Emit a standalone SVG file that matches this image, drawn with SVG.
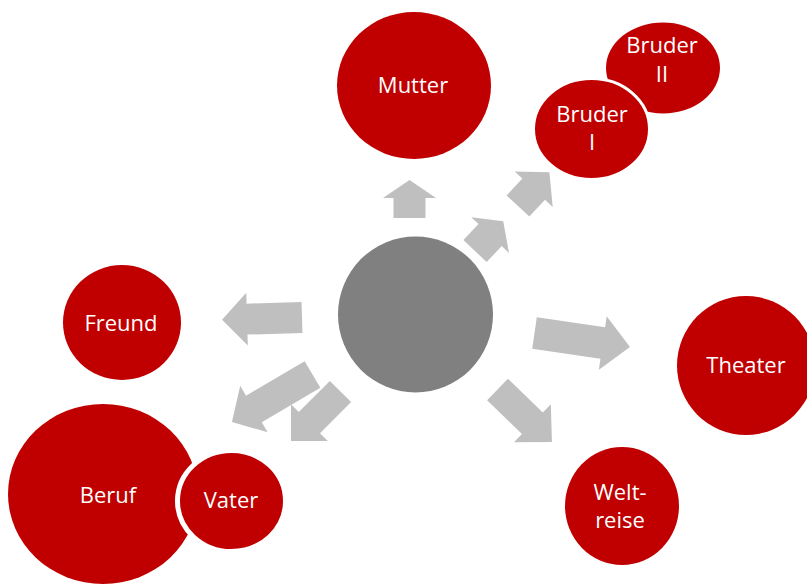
<svg xmlns="http://www.w3.org/2000/svg" width="807" height="585" viewBox="0 0 807 585">
<style>
.n{fill:#C00000}
.w{stroke:#FFFFFF}
.t{fill:#FFFFFF;font-family:"Open Sans","Noto Sans",sans-serif;font-size:22px;text-anchor:middle}
.a{fill:#BFBFBF}
</style>
<rect width="807" height="585" fill="#FFFFFF"/>
<g id="connectors">
<polygon class="a" transform="translate(409.5,218) rotate(-90)" points="0,-16 20,-16 20,-26.5 38,0 20,26.5 20,16 0,16"/>
<polygon class="a" transform="translate(475,251) rotate(-46.5)" points="0,-16 22,-16 22,-26 41,0 22,26 22,16 0,16"/>
<polygon class="a" transform="translate(518,206) rotate(-47)" points="0,-15.5 23,-15.5 23,-26 46,0 23,26 23,15.5 0,15.5"/>
<polygon class="a" transform="translate(302,317.5) rotate(178.3)" points="0,-15.5 55,-15.5 55,-26.5 80,0 55,26.5 55,15.5 0,15.5"/>
<polygon class="a" transform="translate(312.5,374.5) rotate(149.5)" points="0,-15.5 68,-15.5 68,-27 93.5,0 68,27 68,15.5 0,15.5"/>
<polygon class="a" transform="translate(340.5,391.5) rotate(135)" points="0,-15 44,-15 44,-26 70,0 44,26 44,15 0,15"/>
<polygon class="a" transform="translate(534.5,333) rotate(8.3)" points="0,-16 69,-16 69,-27 96.5,0 69,27 69,16 0,16"/>
<polygon class="a" transform="translate(497.5,389.5) rotate(44)" points="0,-15 48.5,-15 48.5,-26.5 75.7,0 48.5,26.5 48.5,15 0,15"/>
</g>
<g id="center"><ellipse cx="415.5" cy="314.5" rx="77.5" ry="78" fill="#808080"/></g>
<g id="mutter"><ellipse class="n" cx="414" cy="85.5" rx="77" ry="73.5"/><text class="t" x="413" y="93">Mutter</text></g>
<g id="bruder2"><ellipse class="n" cx="663" cy="68" rx="57" ry="45.5"/><text class="t" x="662" y="53">Bruder</text><text class="t" x="662" y="82">II</text></g>
<g id="bruder1"><ellipse class="n w" stroke-width="3" cx="591.5" cy="129" rx="58" ry="50.5"/><text class="t" x="592" y="122">Bruder</text><text class="t" x="592" y="150">I</text></g>
<g id="freund"><ellipse class="n" cx="122" cy="322.5" rx="59" ry="57.5"/><text class="t" x="121" y="331">Freund</text></g>
<g id="theater"><ellipse class="n" cx="746" cy="365.5" rx="69" ry="69.5"/><text class="t" x="746" y="373">Theater</text></g>
<g id="weltreise"><ellipse class="n" cx="622" cy="506" rx="57" ry="59"/><text class="t" x="620" y="500">Welt-</text><text class="t" x="620" y="528">reise</text></g>
<g id="beruf"><ellipse class="n" cx="103" cy="494" rx="95" ry="90"/><text class="t" x="108" y="503">Beruf</text></g>
<g id="vater"><ellipse class="n w" stroke-width="5" cx="231.5" cy="501" rx="54" ry="50.5"/><text class="t" x="231" y="508">Vater</text></g>
</svg>
